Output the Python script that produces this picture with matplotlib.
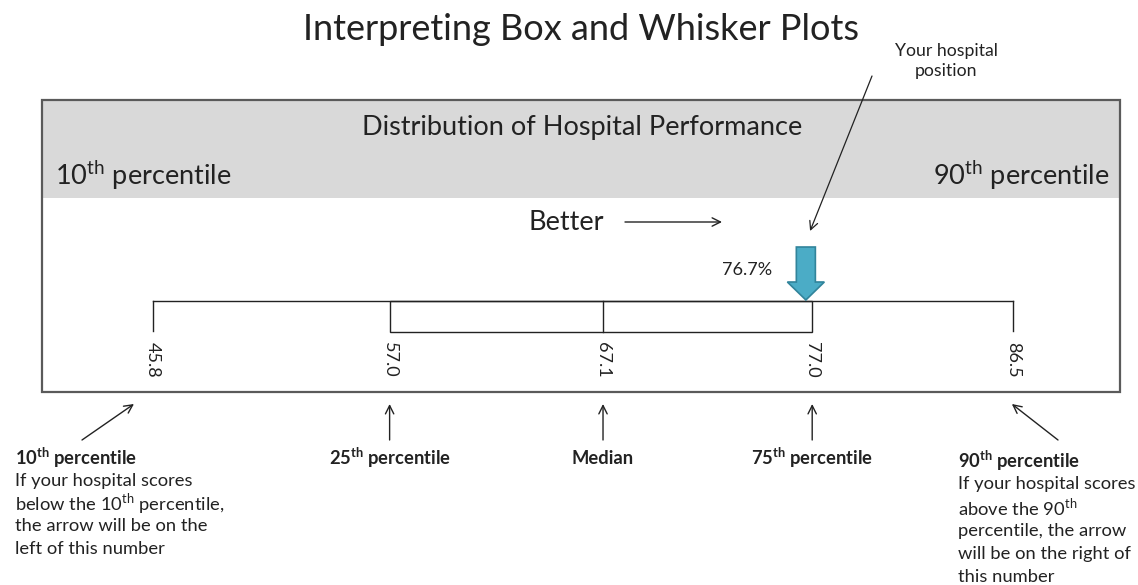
import numpy as np
import matplotlib.pyplot as plt
from matplotlib.patches import Rectangle, FancyArrow

plt.rcParams['font.family'] = ['Lato', 'DejaVu Sans']
plt.rcParams['mathtext.fontset'] = 'custom'
plt.rcParams['mathtext.rm'] = 'Lato'
plt.rcParams['mathtext.bf'] = 'Lato:bold'

# box plot summary (10th, 25th, median, 75th, 90th)
stat_values = [45.8, 57.0, 67.1, 77.0, 86.5]
stat_names = ['10$^{\\mathbf{th}}$ percentile', '25$^{\\mathbf{th}}$ percentile', 'Median',
              '75$^{\\mathbf{th}}$ percentile', '90$^{\\mathbf{th}}$ percentile']
hospital_value = 76.7

low_note = ['If your hospital scores', 'below the 10$^{\\mathrm{th}}$ percentile,',
            'the arrow will be on the', 'left of this number']
high_note = ['If your hospital scores', 'above the 90$^{\\mathrm{th}}$',
             'percentile, the arrow', 'will be on the right of', 'this number']

TXT = '#222222'
W = 1138.0

fig = plt.figure(figsize=(11.38, 5.85), dpi=100)
ax = fig.add_axes([0, 0, 1, 1])
ax.set_xlim(38.56, 92.42)
ax.set_ylim(585, 0)
ax.axis('off')
lay = ax.get_yaxis_transform()  # x in axes fraction, y in pixels


def fx(px):
    return px / W


# title and header band
ax.text(fx(581), 30, 'Interpreting Box and Whisker Plots', transform=lay,
        ha='center', va='center', fontsize=26, color=TXT)
ax.add_patch(Rectangle((fx(42), 100), fx(1120) - fx(42), 98, transform=lay,
                       facecolor='#d9d9d9', edgecolor='none', zorder=0))
ax.add_patch(Rectangle((fx(42), 100), fx(1120) - fx(42), 292, transform=lay,
                       facecolor='none', edgecolor='#5a5a5a', lw=1.6, zorder=1))
ax.text(fx(582), 127, 'Distribution of Hospital Performance', transform=lay,
        ha='center', va='center', fontsize=19.5, color=TXT)
ax.text(fx(55), 175, '10$^{\\mathrm{th}}$ percentile', transform=lay,
        ha='left', va='center', fontsize=19.5, color=TXT)
ax.text(fx(1110), 175, '90$^{\\mathrm{th}}$ percentile', transform=lay,
        ha='right', va='center', fontsize=19.5, color=TXT)

# "Better" direction
ax.text(fx(566), 222, 'Better', transform=lay, ha='center', va='center',
        fontsize=19.5, color=TXT)
ax.annotate('', xy=(fx(722), 222), xycoords=lay, xytext=(fx(625), 222), textcoords=lay,
            arrowprops=dict(arrowstyle='->', color=TXT, lw=1.0, shrinkA=0, shrinkB=0,
                            mutation_scale=15))

# box and whiskers
lo, q1, med, q3, hi = stat_values
ax.plot([lo, hi], [301, 301], color=TXT, lw=1.0)
ax.plot([lo, lo], [301, 331], color=TXT, lw=1.0)
ax.plot([hi, hi], [301, 331], color=TXT, lw=1.0)
ax.add_patch(Rectangle((q1, 301), q3 - q1, 31, facecolor='none', edgecolor=TXT, lw=1.0))
ax.plot([med, med], [301, 332], color=TXT, lw=1.0)
for v in stat_values:
    ax.text(v, 342, f'{v:.1f}', rotation=270, ha='center', va='top',
            fontsize=13, color=TXT)

# hospital marker
ax.add_patch(FancyArrow(hospital_value, 247, 0, 53, width=0.9, head_width=1.75,
                        head_length=18, length_includes_head=True,
                        facecolor='#4bacc6', edgecolor='#31849b', lw=1.2, zorder=3))
ax.text(hospital_value - 1.6, 270, f'{hospital_value:.1f}%', ha='right', va='center',
        fontsize=13, color=TXT)
ax.text(fx(946), 61, 'Your hospital\nposition', transform=lay, ha='center', va='center',
        fontsize=12.7, color=TXT, linespacing=1.35)
ax.annotate('', xy=(hospital_value + 0.2, 231), xycoords='data',
            xytext=(fx(872), 76), textcoords=lay,
            arrowprops=dict(arrowstyle='->', color=TXT, lw=0.9, shrinkA=0, shrinkB=0,
                            mutation_scale=15))

# bottom labels
for i, (v, name) in enumerate(zip(stat_values, stat_names)):
    if i == 0:
        ax.annotate('', xy=(v - 0.9, 404), xytext=(fx(82), 440), textcoords=lay,
                    arrowprops=dict(arrowstyle='->', color=TXT, lw=1.0, shrinkA=0,
                                    shrinkB=0, mutation_scale=15))
        ax.text(fx(15), 458, name, transform=lay, ha='left', va='center',
                fontsize=13.2, fontweight='bold', color=TXT)
    elif i == 4:
        ax.annotate('', xy=(v - 0.05, 404), xytext=(fx(1058), 440), textcoords=lay,
                    arrowprops=dict(arrowstyle='->', color=TXT, lw=1.0, shrinkA=0,
                                    shrinkB=0, mutation_scale=15))
        ax.text(fx(958), 461, name, transform=lay, ha='left', va='center',
                fontsize=13.2, fontweight='bold', color=TXT)
    else:
        ax.annotate('', xy=(v, 404), xytext=(v, 440),
                    arrowprops=dict(arrowstyle='->', color=TXT, lw=1.0, shrinkA=0,
                                    shrinkB=0, mutation_scale=15))
        ax.text(v, 458, name, ha='center', va='center', fontsize=13.2,
                fontweight='bold', color=TXT)

for k, line in enumerate(low_note):
    ax.text(fx(15), 481 + k * 22.5, line, transform=lay, ha='left', va='center',
            fontsize=13.2, color=TXT)
for k, line in enumerate(high_note):
    ax.text(fx(958), 484 + k * 23.3, line, transform=lay, ha='left', va='center',
            fontsize=13.2, color=TXT)

fig.savefig('out.png', dpi=100)
